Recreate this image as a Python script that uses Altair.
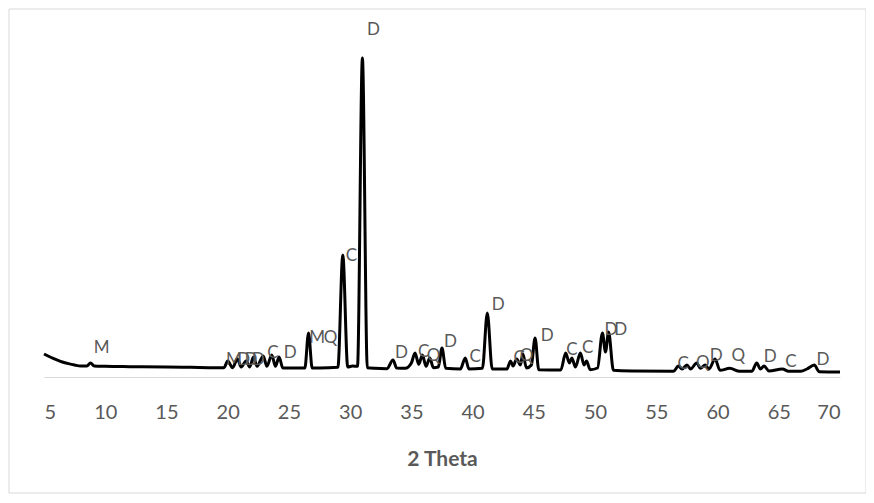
import altair as alt
import pandas as pd

# XRD trace (2θ in degrees, intensity in arbitrary units)
two_theta = [5.0, 5.5, 6.0, 6.5, 7.0, 7.5, 8.0, 8.5, 8.8, 9.1, 10.0, 12.0, 15.0, 17.0, 19.0, 19.7,
             20.0, 20.4, 20.8, 21.1, 21.5, 21.8, 22.1, 22.4, 22.9, 23.2, 23.6, 23.9, 24.2, 24.5,
             26.3, 26.6, 26.9, 27.5, 29.0, 29.4, 29.8, 30.2, 30.6, 31.0, 31.4, 32.0,
             33.0, 33.5, 33.8, 34.5, 35.0, 35.3, 35.6, 35.9, 36.2, 36.5, 36.8, 37.2, 37.5, 37.8,
             39.0, 39.4, 39.7, 40.8, 41.2, 41.6, 42.8, 43.1, 43.3, 43.6, 43.9, 44.1, 44.4, 44.8,
             45.1, 45.4, 47.2, 47.6, 47.9, 48.1, 48.4, 48.8, 49.1, 49.3, 49.6, 50.2, 50.6, 50.85,
             51.1, 51.5, 53.0, 56.4, 56.8, 57.1, 57.5, 57.8, 58.3, 58.6, 59.0, 59.3, 59.8, 60.2,
             61.0, 61.8, 62.8, 63.2, 63.5, 63.8, 64.2, 65.3, 65.8, 66.8, 67.3, 67.9, 68.3, 70.0]
intensity = [69, 60, 52, 45, 40, 36, 33, 33, 42, 33, 32, 31, 30, 29, 28, 28,
             48, 28, 54, 30, 48, 30, 60, 32, 63, 32, 66, 32, 60, 27,
             27, 132, 27, 27, 29, 366, 30, 33, 32, 957, 28, 26,
             25, 51, 27, 26, 42, 72, 38, 66, 32, 57, 28, 30, 87, 26,
             24, 57, 24, 26, 192, 24, 24, 48, 33, 54, 36, 69, 27, 36,
             117, 22, 21, 72, 42, 57, 30, 72, 36, 48, 22, 27, 132, 75,
             135, 20, 18, 17, 33, 24, 36, 24, 42, 26, 36, 24, 54, 20,
             26, 17, 17, 42, 24, 33, 18, 24, 17, 17, 24, 36, 16, 15]

# Phase labels (M, Q, C, D) and where they sit
label_text = ["M", "M", "D", "D", "D", "C", "D", "M", "Q", "C", "D", "D", "C", "Q", "D",
              "C", "D", "C", "Q", "D", "C", "C", "D", "D", "C", "Q", "D", "Q", "D", "C", "D"]
label_x = [9.7, 20.5, 21.3, 21.9, 22.5, 23.7, 25.1, 27.3, 28.4, 30.1, 31.9, 34.2, 36.0, 36.8, 38.2,
           40.2, 42.1, 43.8, 44.4, 46.1, 48.1, 49.4, 51.3, 52.1, 57.2, 58.8, 59.9, 61.7, 64.3, 66.0, 68.6]
label_y = [87, 51, 51, 51, 51, 72, 72, 117, 117, 363, 1041, 72, 75, 63, 105,
           60, 216, 57, 63, 123, 81, 87, 141, 141, 39, 42, 63, 63, 60, 45, 51]

x_ticks = list(range(5, 71, 5))

trace = pd.DataFrame({"x": two_theta, "y": intensity})
labels = pd.DataFrame({"t": label_text, "x": label_x, "y": label_y})

xs = alt.Scale(domain=[5, 70], nice=False, zero=False)
ys = alt.Scale(domain=[0, 1071], nice=False)

frame = alt.Chart(pd.DataFrame({"k": [0]})).mark_rect(
    fill="transparent", stroke="#d9d9d9", strokeWidth=1, clip=False
).encode(
    x=alt.value(-35), x2=alt.value(822), y=alt.value(-11), y2=alt.value(473)
)

line = alt.Chart(trace).mark_line(color="black", strokeWidth=3, interpolate="monotone").encode(
    x=alt.X("x:Q", scale=xs,
            axis=alt.Axis(title="2 Theta", values=x_ticks, grid=False, ticks=False,
                          domainColor="#d9d9d9", domainWidth=1.2,
                          labelFont="Lato", labelFontSize=20, labelColor="#595959",
                          labelPadding=25, titleFont="Lato", titleFontSize=21,
                          titleColor="#595959", titleFontWeight="bold", titlePadding=26)),
    y=alt.Y("y:Q", scale=ys, axis=None),
)

text = alt.Chart(labels).mark_text(font="Lato", fontSize=17, color="#595959",
                                   baseline="middle", align="center").encode(
    x=alt.X("x:Q", scale=xs),
    y=alt.Y("y:Q", scale=ys),
    text="t:N",
)

chart = (frame + line + text).properties(
    width=796, height=357,
    background="white",
    autosize=alt.AutoSizeParams(type="none"),
    padding={"left": 36, "top": 12, "right": 26, "bottom": 118},
).configure_view(stroke="transparent", strokeWidth=0)

chart.save("out.html", embed_options={"renderer": "svg", "actions": False})
